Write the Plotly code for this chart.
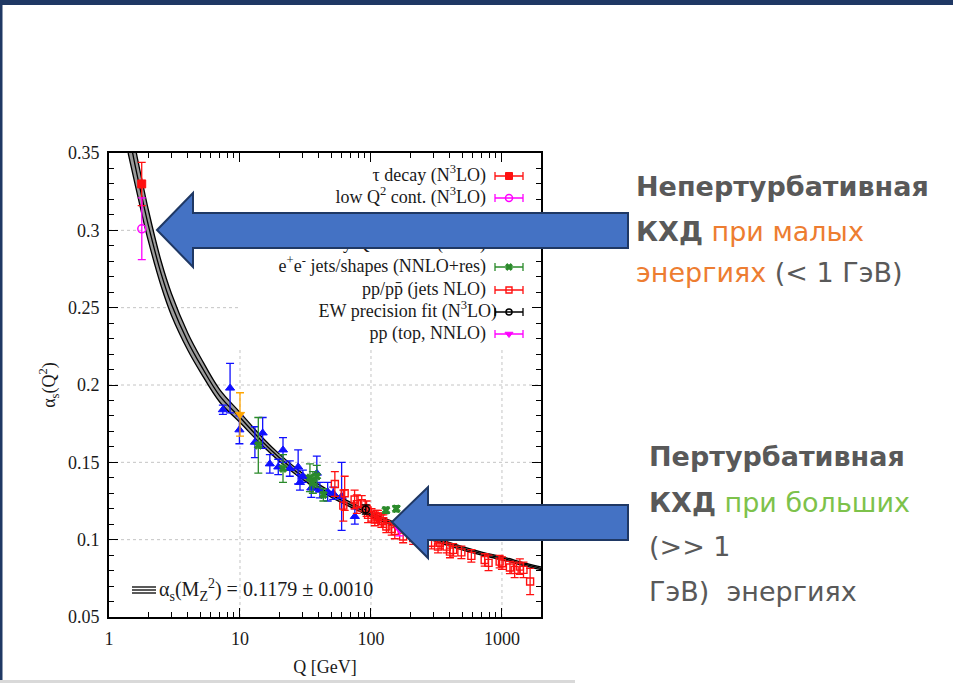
import math
import plotly.graph_objects as go

W, H = 953, 683

# ---- running coupling band: Q [GeV], central alpha_s, half-width ----
band_q = [1.40, 1.6, 1.8, 2.0, 2.5, 3.0, 4.0, 5.0, 7.0, 10, 15, 20, 30, 50,
          91.2, 150, 250, 400, 700, 1000, 1500, 2100]
band_mid = [0.365, 0.340, 0.320, 0.303, 0.272, 0.252, 0.228, 0.213, 0.193,
            0.179, 0.163, 0.153, 0.141, 0.129, 0.1179, 0.110, 0.103, 0.097,
            0.091, 0.088, 0.084, 0.081]
band_hw = [0.015, 0.012, 0.011, 0.010, 0.008, 0.007, 0.0055, 0.0048, 0.004,
           0.0033, 0.0026, 0.0023, 0.002, 0.0017, 0.0014, 0.0013, 0.0012,
           0.0011, 0.001, 0.001, 0.0009, 0.0009]

# ---- measurements: Q [GeV], alpha_s, uncertainty ----
tau_q, tau_a, tau_e = [1.777], [0.330], [0.014]
lowq_q, lowq_a, lowq_e = [1.78], [0.301], [0.020]

dis_q = [7.4, 8.4, 9.9, 13.0, 14.9, 16.9, 19.6, 21.3, 24.0, 27.8, 28.7, 30.2,
         35.0, 38.6, 40.7, 46.7, 51.5, 59.7, 75.3]
dis_a = [0.184, 0.198, 0.171, 0.163, 0.169, 0.149, 0.147, 0.158, 0.146, 0.147,
         0.137, 0.141, 0.1334, 0.143, 0.132, 0.131, 0.130, 0.128, 0.115]
dis_e = [0.003, 0.016, 0.009, 0.010, 0.010, 0.006, 0.005, 0.008, 0.005, 0.011,
         0.005, 0.004, 0.006, 0.011, 0.005, 0.006, 0.004, 0.022, 0.005]

hq_q, hq_a, hq_e = [10.0], [0.181], [0.014]

ee_q = [13.8, 21.3, 34.2, 36.0, 38.6, 43.3, 130, 156]
ee_a = [0.161, 0.146, 0.140, 0.137, 0.141, 0.129, 0.119, 0.120]
ee_e = [0.018, 0.009, 0.009, 0.007, 0.007, 0.004, 0.002, 0.002]

ppj_q = [53, 61.5, 63, 75, 78, 85, 92.6, 95, 101, 107, 110, 113, 120, 124,
         131, 144, 152, 176, 210, 250, 290, 325, 336, 378, 401, 424, 490,
         584, 738, 790, 960, 1000, 1150, 1250, 1370, 1460, 1640]
ppj_a = [0.136, 0.122, 0.130, 0.126, 0.123, 0.1235, 0.120, 0.116, 0.116,
         0.113, 0.115, 0.115, 0.112, 0.112, 0.1085, 0.107, 0.1056, 0.102,
         0.101, 0.099, 0.098, 0.0955, 0.098, 0.0955, 0.0923, 0.0934, 0.0918,
         0.0895, 0.0869, 0.085, 0.0858, 0.0848, 0.082, 0.0805, 0.0826, 0.0805,
         0.073]
ppj_e = [0.008, 0.010, 0.011, 0.006, 0.006, 0.005, 0.005, 0.005, 0.004,
         0.004, 0.004, 0.004, 0.004, 0.004, 0.004, 0.004, 0.005, 0.004,
         0.004, 0.004, 0.004, 0.004, 0.004, 0.004, 0.004, 0.004, 0.004,
         0.004, 0.004, 0.005, 0.004, 0.004, 0.004, 0.005, 0.005, 0.005,
         0.0085]

ew_q, ew_a, ew_e = [91.2], [0.1195], [0.003]
top_q, top_a, top_e = [165], [0.1065], [0.004]

# ---- axes ----
x_ticks = [1, 10, 100, 1000]
x_ticktext = ["1", "10", "100", "1000"]
y_ticks = [0.05, 0.1, 0.15, 0.2, 0.25, 0.3, 0.35]
y_ticktext = ["0.05", "0.1", "0.15", "0.2", "0.25", "0.3", "0.35"]
x_minor = [m * 10 ** e for e in range(4) for m in range(2, 10) if m * 10 ** e < 2000]
X_RANGE = [0, 3.298]
Y_RANGE = [0.05, 0.35]

legend_labels = [
    "τ decay (N<sup>3</sup>LO)",
    "low Q<sup>2</sup> cont. (N<sup>3</sup>LO)",
    "DIS jets (NLO)",
    "Heavy Quarkonia (NLO)",
    "e<sup>+</sup>e<sup>-</sup> jets/shapes (NNLO+res)",
    "pp/pp\u0304 (jets NLO)",
    "EW precision fit (N<sup>3</sup>LO)",
    "pp (top, NNLO)",
]

RED, MAG, BLUE, ORANGE, GREEN, BLACK = "#ff1010", "#ff00ff", "#1010ff", "#ffa500", "#2a8a2a", "#000000"
SERIF = "Liberation Serif"
INK = "#1a1a1a"

# plot area in pixels
PX0, PX1, PY0, PY1 = 109, 541, 153, 617


def px(x):
    return x / W


def py(y):
    return 1 - y / H


def xdom(q):
    return (math.log10(q) - X_RANGE[0]) / (X_RANGE[1] - X_RANGE[0])


fig = go.Figure()

# band
lower = [m - h for m, h in zip(band_mid, band_hw)]
upper = [m + h for m, h in zip(band_mid, band_hw)]
fig.add_trace(go.Scatter(x=band_q, y=lower, mode="lines", line=dict(color=BLACK, width=1.3, shape="spline"),
                         showlegend=False, hoverinfo="skip"))
fig.add_trace(go.Scatter(x=band_q, y=upper, mode="lines", line=dict(color=BLACK, width=1.3, shape="spline"),
                         fill="tonexty", fillcolor="#9a9a9a", showlegend=False, hoverinfo="skip"))
fig.add_trace(go.Scatter(x=band_q, y=band_mid, mode="lines", line=dict(color=BLACK, width=1.3, shape="spline"),
                         showlegend=False, hoverinfo="skip"))

series = [
    (tau_q, tau_a, tau_e, RED, "square", 8, 1),
    (lowq_q, lowq_a, lowq_e, MAG, "circle-open", 8, 1.5),
    (dis_q, dis_a, dis_e, BLUE, "triangle-up", 8, 1),
    (hq_q, hq_a, hq_e, ORANGE, "triangle-down", 8, 1),
    (ee_q, ee_a, ee_e, GREEN, "x", 7, 1),
    (ppj_q, ppj_a, ppj_e, RED, "square-open", 7, 1.4),
    (ew_q, ew_a, ew_e, BLACK, "circle-open", 7, 1.5),
    (top_q, top_a, top_e, MAG, "triangle-down", 8, 1),
]
plot_order = [2, 3, 4, 5, 6, 7, 0, 1]
for i in plot_order:
    q, a, e, col, sym, size, lw = series[i]
    fig.add_trace(go.Scatter(
        x=q, y=a, mode="markers",
        marker=dict(symbol=sym, size=size, color=col, line=dict(color=col, width=lw)),
        error_y=dict(type="data", array=e, visible=True, color=col, thickness=1.3, width=4),
        showlegend=False, hoverinfo="skip"))

# key entries drawn on an overlay axis spanning the plot area (0..1)
row_px = [176, 198, 221, 244, 267, 290, 312, 334]
text_px = [486, 486, 486, 486, 486, 486, 497, 486]
samp_fx = (509 - PX0) / (PX1 - PX0)
samp_hw = 14 / (PX1 - PX0)
row_fy = [(PY1 - r) / (PY1 - PY0) for r in row_px]
text_fx = [(t - PX0) / (PX1 - PX0) for t in text_px]
fig.add_trace(go.Scatter(
    x=text_fx, y=row_fy, text=legend_labels, mode="text",
    textposition="middle left", textfont=dict(family=SERIF, size=18, color=INK),
    xaxis="x2", yaxis="y2", showlegend=False, hoverinfo="skip", cliponaxis=False))
for i, (q, a, e, col, sym, size, lw) in enumerate(series):
    fig.add_trace(go.Scatter(
        x=[samp_fx], y=[row_fy[i]], mode="markers",
        marker=dict(symbol=sym, size=size - 1, color=col, line=dict(color=col, width=lw)),
        error_x=dict(type="constant", value=samp_hw, color=col, thickness=1.3, width=4),
        xaxis="x2", yaxis="y2", showlegend=False, hoverinfo="skip", cliponaxis=False))

shapes = []
GRID = dict(color="#c4c4c4", width=1, dash="dot")
key_left = xdom(10)
key_bottom = 0.2227
# dotted grid, stopping at the key box
for yv in y_ticks[1:-1]:
    x_end = key_left if yv > key_bottom else 1
    shapes.append(dict(type="line", xref="x domain", yref="y", x0=0, x1=x_end, y0=yv, y1=yv,
                       line=GRID, layer="below"))
for xv in x_ticks[1:]:
    shapes.append(dict(type="line", xref="x domain", yref="y", x0=xdom(xv), x1=xdom(xv),
                       y0=Y_RANGE[0], y1=key_bottom, line=GRID, layer="below"))

# three-line band symbol beside the alpha_s(MZ) value
for yy in (587, 590, 593):
    shapes.append(dict(type="line", xref="paper", yref="paper", x0=px(132), x1=px(156),
                       y0=py(yy), y1=py(yy), line=dict(color=BLACK, width=1.3)))


def arrow(tip_x, tip_y, head_x, head_top, head_bot, body_top, body_bot, end_x):
    pts = [(tip_x, tip_y), (head_x, head_top), (head_x, body_top), (end_x, body_top),
           (end_x, body_bot), (head_x, body_bot), (head_x, head_bot)]
    path = "M " + " L ".join(f"{px(x):.5f},{py(y):.5f}" for x, y in pts) + " Z"
    return dict(type="path", xref="paper", yref="paper", path=path, fillcolor="#4472C4",
                line=dict(color="#1F3864", width=2), layer="above")


shapes.append(arrow(157, 230, 193, 193, 267, 213, 248, 628))
shapes.append(arrow(392, 522, 428, 487, 558, 505, 540, 628))

# slide frame
shapes.append(dict(type="rect", xref="paper", yref="paper", x0=0, x1=1, y0=py(5), y1=1,
                   fillcolor="#1F3864", line=dict(width=0), layer="above"))
shapes.append(dict(type="rect", xref="paper", yref="paper", x0=0, x1=px(2.5), y0=0, y1=1,
                   fillcolor="#1F3864", line=dict(width=0), layer="above"))
shapes.append(dict(type="rect", xref="paper", yref="paper", x0=0, x1=px(575), y0=0, y1=py(680),
                   fillcolor="#d9d9d9", line=dict(width=0), layer="above"))

GRAY, ORG, GRN = "#595959", "#ED7D31", "#7DC24B"
SANS = "DejaVu Sans"
FS = 27
text_lines = [
    (634, 195, "<b>Непертурбативная</b>"),
    (634, 240, f"<b>КХД</b> <span style='color:{ORG}'>при малых</span>"),
    (634, 282, f"<span style='color:{ORG}'>энергиях</span> (< 1 ГэВ)"),
    (647, 465, "<b>Пертурбативная</b>"),
    (647, 511, f"<b>КХД</b> <span style='color:{GRN}'>при больших</span>"),
    (647, 555, "(>> 1"),
    (647, 600, "ГэВ)  энергиях"),
]
annotations = []
for x0, base, txt in text_lines:
    annotations.append(dict(x=px(x0), y=py(base - 9), xref="paper", yref="paper", text=txt,
                            xanchor="left", yanchor="middle", showarrow=False,
                            font=dict(family=SANS, size=FS, color=GRAY)))
annotations.append(dict(x=px(157), y=py(590), xref="paper", yref="paper",
                        text="α<sub>s</sub>(M<sub>Z</sub><sup>2</sup>) = 0.1179 ± 0.0010",
                        xanchor="left", yanchor="middle", showarrow=False,
                        font=dict(family=SERIF, size=20, color=INK)))

axis_common = dict(showline=True, linecolor=BLACK, linewidth=1.6, mirror="allticks",
                   ticks="inside", ticklen=9, tickwidth=1.2, tickcolor=BLACK,
                   showgrid=False, zeroline=False, automargin=False,
                   tickfont=dict(family=SERIF, size=18, color=INK))

fig.update_layout(
    width=W, height=H, margin=dict(l=0, r=0, t=0, b=0),
    paper_bgcolor="white", plot_bgcolor="white", showlegend=False,
    xaxis=dict(type="log", range=X_RANGE, domain=[px(PX0), px(PX1)],
               tickvals=x_ticks, ticktext=x_ticktext, ticklabelstandoff=5,
               minor=dict(tickvals=x_minor, ticks="inside", ticklen=5, tickwidth=1.1,
                          tickcolor=BLACK, showgrid=False),
               title=dict(text="Q [GeV]", font=dict(family=SERIF, size=18, color=INK), standoff=12),
               **axis_common),
    yaxis=dict(range=Y_RANGE, domain=[py(PY1), py(PY0)],
               tickvals=y_ticks, ticktext=y_ticktext, ticklabelstandoff=4,
               minor=dict(dtick=0.01, ticks="inside", ticklen=5, tickwidth=1.1,
                          tickcolor=BLACK, showgrid=False),
               title=dict(text="α<sub>s</sub>(Q<sup>2</sup>)", font=dict(family=SERIF, size=18, color=INK),
                          standoff=8),
               **axis_common),
    xaxis2=dict(overlaying="x", range=[0, 1], visible=False, anchor="y2"),
    yaxis2=dict(overlaying="y", range=[0, 1], visible=False, anchor="x2"),
    shapes=shapes, annotations=annotations,
)

fig.write_html("out.html")
